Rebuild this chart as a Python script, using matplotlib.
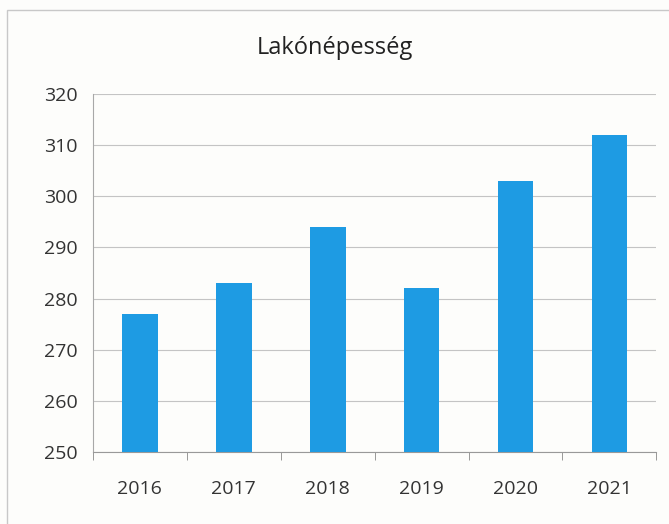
import numpy as np
import matplotlib.pyplot as plt
from matplotlib.patches import Rectangle

evek = ["2016", "2017", "2018", "2019", "2020", "2021"]
ertekek = [277, 283, 294, 282, 303, 312]
y_tickek = [250, 260, 270, 280, 290, 300, 310, 320]

plt.rcParams['font.family'] = ['Open Sans', 'DejaVu Sans']

fig = plt.figure(figsize=(6.69, 5.24), dpi=100)
fig.patch.set_facecolor("#fdfdfb")
ax = fig.add_axes([0.139, 0.1374, 0.842, 0.6832])
ax.set_facecolor("#fdfdfb")

# keret a diagram körül
fig.patches.append(Rectangle((7 / 669, -0.01), 1.0, 1 - 10 / 524 + 0.01,
                             transform=fig.transFigure, fill=False,
                             edgecolor="#c8c8c8", linewidth=1.0))

x = np.arange(len(evek))
ax.bar(x, ertekek, width=0.38, color="#1e9be3", zorder=3)

ax.set_ylim(250, 320)
ax.set_xlim(-0.5, len(evek) - 0.5)
ax.set_yticks(y_tickek)
ax.yaxis.grid(True, color="#c4c4c4", linewidth=0.8, zorder=0)
ax.tick_params(axis="y", length=0, pad=11, labelsize=14, labelcolor="#333333")

ax.set_xticks(x)
ax.set_xticklabels(evek)
ax.set_xticks(np.arange(-0.5, len(evek)), minor=True)
ax.tick_params(axis="x", which="major", length=0, pad=20, labelsize=14, labelcolor="#333333")
ax.tick_params(axis="x", which="minor", length=6, color="#888888", direction="out")

for s in ["top", "right"]:
    ax.spines[s].set_visible(False)
ax.spines["left"].set_color("#a8a8a8")
ax.spines["bottom"].set_color("#999999")

fig.text(0.5, 0.908, "Lakónépesség", ha="center", va="center",
         fontsize=17, color="#222222")

fig.savefig("out.png", dpi=100, facecolor=fig.get_facecolor())
